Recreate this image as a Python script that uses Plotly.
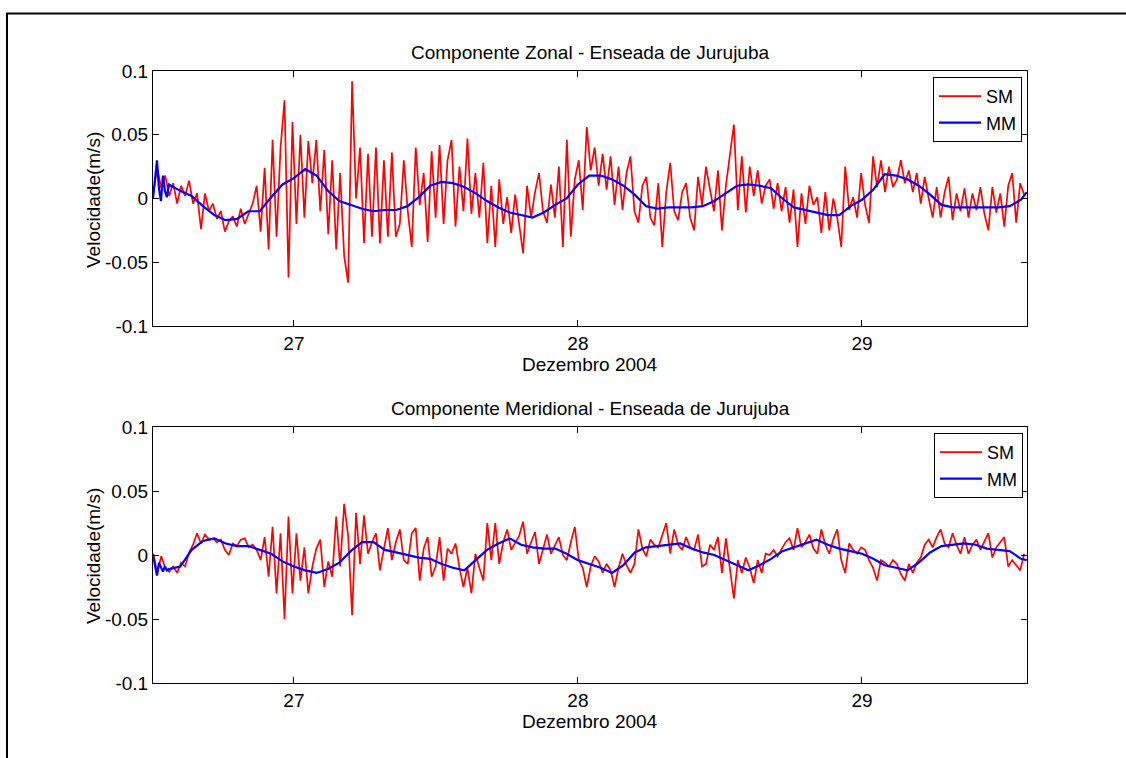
import numpy as np
import plotly.graph_objects as go

# ---------------- data ----------------
SM_START = 26.505   # day of first SM sample (December 2004)
SM_STEP = 0.014     # sampling step of SM series (days)

sm_zonal = [
    0.004, 0.024, 0.008, 0.018, 0.002, 0.012, -0.004, 0.010, 0.002, 0.014,
    -0.004, 0.004, -0.024, 0.004, -0.010, -0.004, -0.016, -0.010, -0.026, -0.018,
    -0.014, -0.022, -0.008, -0.020, -0.012, -0.004, 0.010, -0.026, 0.024, -0.040,
    0.046, -0.030, 0.040, 0.077, -0.062, 0.060, -0.020, 0.050, -0.015, 0.045,
    0.012, 0.046, -0.010, 0.038, -0.028, 0.030, -0.040, 0.020, -0.045, -0.066,
    0.092, 0.000, 0.040, -0.035, 0.035, -0.030, 0.040, -0.035, 0.030, -0.030,
    0.036, -0.030, -0.020, 0.030, -0.010, -0.038, 0.040, -0.005, 0.020, -0.034,
    0.037, -0.015, 0.042, -0.020, 0.030, 0.046, -0.022, 0.025, -0.010, 0.047,
    -0.012, 0.020, -0.015, 0.028, -0.035, 0.010, -0.038, 0.015, -0.020, 0.001,
    -0.027, 0.003, -0.020, -0.043, 0.010, -0.015, 0.005, 0.020, -0.010, -0.019,
    0.011, -0.015, 0.025, -0.038, 0.046, -0.030, 0.015, 0.030, -0.009, 0.056,
    0.022, 0.040, 0.010, 0.035, 0.007, 0.033, -0.005, 0.025, -0.009, 0.020,
    0.033, -0.010, -0.019, 0.010, 0.017, -0.015, -0.021, 0.012, -0.038, 0.005,
    0.028, -0.010, -0.017, 0.005, 0.012, -0.015, -0.025, 0.017, -0.005, 0.025,
    0.007, -0.010, 0.022, -0.025, 0.010, 0.035, 0.058, -0.009, 0.033, -0.011,
    0.025, 0.002, 0.022, -0.004, 0.010, 0.015, -0.008, 0.012, -0.010, 0.009,
    -0.019, 0.007, -0.038, 0.004, -0.020, 0.010, -0.005, 0.001, -0.027, 0.005,
    -0.025, 0.000, -0.015, -0.038, 0.025, -0.009, 0.001, -0.015, 0.020, -0.005,
    -0.019, 0.033, 0.009, 0.030, 0.005, 0.025, 0.009, 0.015, 0.030, 0.012,
    0.022, 0.005, 0.020, -0.004, 0.017, 0.000, -0.015, 0.009, -0.015, 0.005,
    0.017, -0.017, 0.004, -0.010, 0.008, -0.015, 0.004, -0.009, 0.009, -0.012,
    -0.025, 0.009, -0.011, 0.004, -0.022, 0.010, 0.020, -0.019, 0.012, 0.003,
]

sm_merid = [
    0.001, -0.014, -0.001, -0.010, -0.013, -0.009, -0.014, -0.006, -0.009, 0.002,
    0.008, 0.017, 0.009, 0.016, 0.012, 0.013, 0.010, 0.012, 0.004, 0.000,
    0.009, 0.007, 0.012, 0.013, 0.006, 0.008, 0.004, -0.004, 0.014, -0.017,
    0.022, -0.030, 0.017, -0.050, 0.030, -0.030, 0.017, -0.020, 0.006, -0.030,
    -0.009, 0.005, 0.012, -0.025, -0.005, -0.017, 0.030, -0.009, 0.040, 0.015,
    -0.047, 0.033, -0.007, 0.031, 0.001, 0.010, 0.017, -0.012, 0.005, 0.021,
    -0.004, 0.010, 0.020, -0.004, -0.007, 0.017, 0.021, -0.020, 0.005, 0.014,
    -0.017, -0.009, 0.014, -0.020, 0.005, 0.001, 0.009, -0.010, -0.025, -0.010,
    -0.030, 0.001, -0.010, -0.020, 0.025, -0.004, 0.025, -0.007, 0.010, 0.020,
    0.004, 0.010, 0.015, 0.026, 0.001, 0.010, 0.018, -0.007, 0.005, 0.016,
    0.001, 0.008, 0.014, 0.000, -0.004, 0.010, 0.022, -0.004, -0.010, -0.025,
    -0.009, -0.001, -0.005, -0.014, -0.007, -0.012, -0.025, -0.010, 0.001, -0.008,
    -0.014, -0.007, 0.020, 0.005, -0.001, 0.012, 0.008, 0.006, 0.015, 0.025,
    0.001, 0.020, 0.008, 0.004, 0.014, 0.006, 0.004, 0.016, -0.009, -0.007,
    0.008, 0.004, 0.014, -0.014, 0.013, -0.010, -0.034, -0.004, -0.014, -0.002,
    -0.010, -0.022, -0.004, -0.014, 0.001, 0.000, 0.004, -0.001, 0.005, 0.010,
    0.013, 0.004, 0.021, 0.006, 0.010, 0.016, 0.005, 0.001, 0.020, 0.008,
    0.001, 0.012, 0.020, -0.004, -0.014, 0.009, 0.004, 0.001, 0.006, 0.004,
    -0.004, -0.010, -0.020, -0.004, -0.006, -0.009, -0.004, -0.007, -0.015, -0.020,
    -0.007, -0.014, -0.006, -0.002, 0.008, 0.012, 0.006, 0.014, 0.020, 0.009,
    0.006, 0.017, 0.008, 0.001, 0.014, 0.001, 0.008, 0.012, 0.004, 0.010,
    0.017, -0.002, 0.006, 0.010, 0.014, -0.009, -0.004, -0.008, -0.012, 0.001,
]

mm_days = [26.504, 26.511, 26.518, 26.525, 26.532, 26.539, 26.546, 26.553, 26.560] + \
    [round(26.60 + 0.04 * k, 3) for k in range(75)] + [29.58]

mm_zonal = [
    0.000, 0.015, 0.030, 0.008, -0.002, 0.018, 0.006, 0.001, 0.011,
    0.006, 0.002, -0.006, -0.013, -0.017, -0.016, -0.010, -0.010, 0.001, 0.011,
    0.016, 0.023, 0.018, 0.006, -0.002, -0.005, -0.008, -0.010, -0.009, -0.009,
    -0.006, 0.001, 0.010, 0.013, 0.012, 0.009, 0.004, -0.002, -0.007, -0.011,
    -0.013, -0.015, -0.011, -0.005, 0.000, 0.011, 0.018, 0.018, 0.015, 0.010,
    0.003, -0.006, -0.008, -0.007, -0.007, -0.007, -0.006, -0.002, 0.004, 0.010,
    0.011, 0.010, 0.008, 0.000, -0.007, -0.009, -0.011, -0.013, -0.013, -0.006,
    -0.001, 0.007, 0.019, 0.018, 0.015, 0.010, 0.003, -0.005, -0.007, -0.007,
    -0.007, -0.007, -0.007, -0.006, -0.001, 0.005,
]

mm_merid = [
    0.000, -0.008, -0.016, -0.006, -0.010, -0.013, -0.009, -0.012, -0.011,
    -0.009, 0.004, 0.011, 0.013, 0.009, 0.007, 0.007, 0.004, 0.001, -0.005,
    -0.009, -0.012, -0.014, -0.011, -0.006, 0.003, 0.010, 0.010, 0.004, 0.002,
    0.000, -0.002, -0.003, -0.007, -0.010, -0.012, -0.004, 0.004, 0.009, 0.013,
    0.008, 0.006, 0.005, 0.005, 0.001, -0.004, -0.007, -0.010, -0.014, -0.008,
    0.002, 0.006, 0.007, 0.008, 0.009, 0.005, 0.002, 0.000, -0.004, -0.008,
    -0.012, -0.008, -0.003, 0.003, 0.006, 0.009, 0.012, 0.008, 0.005, 0.003,
    0.001, -0.003, -0.008, -0.010, -0.012, -0.006, 0.002, 0.007, 0.008, 0.009,
    0.008, 0.005, 0.004, 0.003, -0.003, -0.004,
]

x_tick_vals = [27, 28, 29]
x_tick_text = ["27", "28", "29"]
y_tick_vals = [-0.1, -0.05, 0, 0.05, 0.1]
y_tick_text = ["-0.1", "-0.05", "0", "0.05", "0.1"]
titles = ["Componente Zonal - Enseada de Jurujuba",
          "Componente Meridional - Enseada de Jurujuba"]
x_label = "Dezembro 2004"
y_label = "Velocidade(m/s)"
series_names = ["SM", "MM"]
# -------------------------------------

sm_days = [SM_START + SM_STEP * k for k in range(len(sm_zonal))]

FONT = "Liberation Sans, Arial, sans-serif"
FS = 19
RED = "#ff0000"
BLUE = "#0000ff"

fig = go.Figure()
fig.add_trace(go.Scatter(x=sm_days, y=sm_zonal, mode="lines", name=series_names[0],
                         line=dict(color=RED, width=1.7), xaxis="x", yaxis="y", legend="legend"))
fig.add_trace(go.Scatter(x=mm_days, y=mm_zonal, mode="lines", name=series_names[1],
                         line=dict(color=BLUE, width=2.2), xaxis="x", yaxis="y", legend="legend"))
fig.add_trace(go.Scatter(x=sm_days, y=sm_merid, mode="lines", name=series_names[0],
                         line=dict(color=RED, width=1.7), xaxis="x2", yaxis="y2", legend="legend2"))
fig.add_trace(go.Scatter(x=mm_days, y=mm_merid, mode="lines", name=series_names[1],
                         line=dict(color=BLUE, width=2.2), xaxis="x2", yaxis="y2", legend="legend2"))

W, H = 1126, 758
L, R, T, B = 153, 1027, 71, 683
PW, PH = R - L, B - T


def py(ypix):
    return (B - ypix) / PH


def px(xpix):
    return (xpix - L) / PW


xaxis_common = dict(range=[26.504, 29.581], tickvals=x_tick_vals, ticktext=x_tick_text,
                    showgrid=False, zeroline=False, showline=True, linecolor="black",
                    linewidth=1, mirror="ticks", ticks="inside", ticklen=6,
                    tickcolor="black", tickfont=dict(family=FONT, size=FS, color="black"))
yaxis_common = dict(range=[-0.1, 0.1], tickvals=y_tick_vals, ticktext=y_tick_text,
                    showgrid=False, zeroline=False, showline=True, linecolor="black",
                    linewidth=1, mirror="ticks", ticks="inside", ticklen=6,
                    tickcolor="black", tickfont=dict(family=FONT, size=FS, color="black"))

legend_common = dict(bgcolor="white", bordercolor="black", borderwidth=1,
                     font=dict(family=FONT, size=18, color="black"),
                     xanchor="right", yanchor="top", tracegroupgap=0,
                     itemwidth=42)

fig.update_layout(
    width=W, height=H,
    margin=dict(l=L, r=W - R, t=T, b=H - B, pad=0),
    paper_bgcolor="white", plot_bgcolor="white",
    font=dict(family=FONT, size=FS, color="black"),
    xaxis=dict(xaxis_common, domain=[0, 1], anchor="y"),
    yaxis=dict(yaxis_common, domain=[py(326), 1], anchor="x"),
    xaxis2=dict(xaxis_common, domain=[0, 1], anchor="y2"),
    yaxis2=dict(yaxis_common, domain=[0, py(427)], anchor="x2"),
    legend=dict(legend_common, x=px(1022), y=py(77)),
    legend2=dict(legend_common, x=px(1023), y=py(433)),
    showlegend=True,
)

ann = [
    dict(text=titles[0], x=0.5, y=py(52)),
    dict(text=titles[1], x=0.5, y=py(408)),
    dict(text=x_label, x=0.5, y=py(364)),
    dict(text=x_label, x=0.5, y=py(721)),
    dict(text=y_label, x=px(93), y=py(200), textangle=-90),
    dict(text=y_label, x=px(93), y=py(556), textangle=-90),
]
for a in ann:
    fig.add_annotation(xref="paper", yref="paper", showarrow=False,
                       xanchor="center", yanchor="middle",
                       font=dict(family=FONT, size=FS, color="black"), **a)

# outer figure frame
fig.add_shape(type="rect", xref="paper", yref="paper",
              x0=px(7), x1=px(1200), y0=py(800), y1=py(13.5),
              line=dict(color="black", width=2), fillcolor="rgba(0,0,0,0)", layer="above")

fig.write_html("out.html", config={"displayModeBar": False},
               post_script="document.body.style.margin='0';document.body.style.overflow='hidden';")
